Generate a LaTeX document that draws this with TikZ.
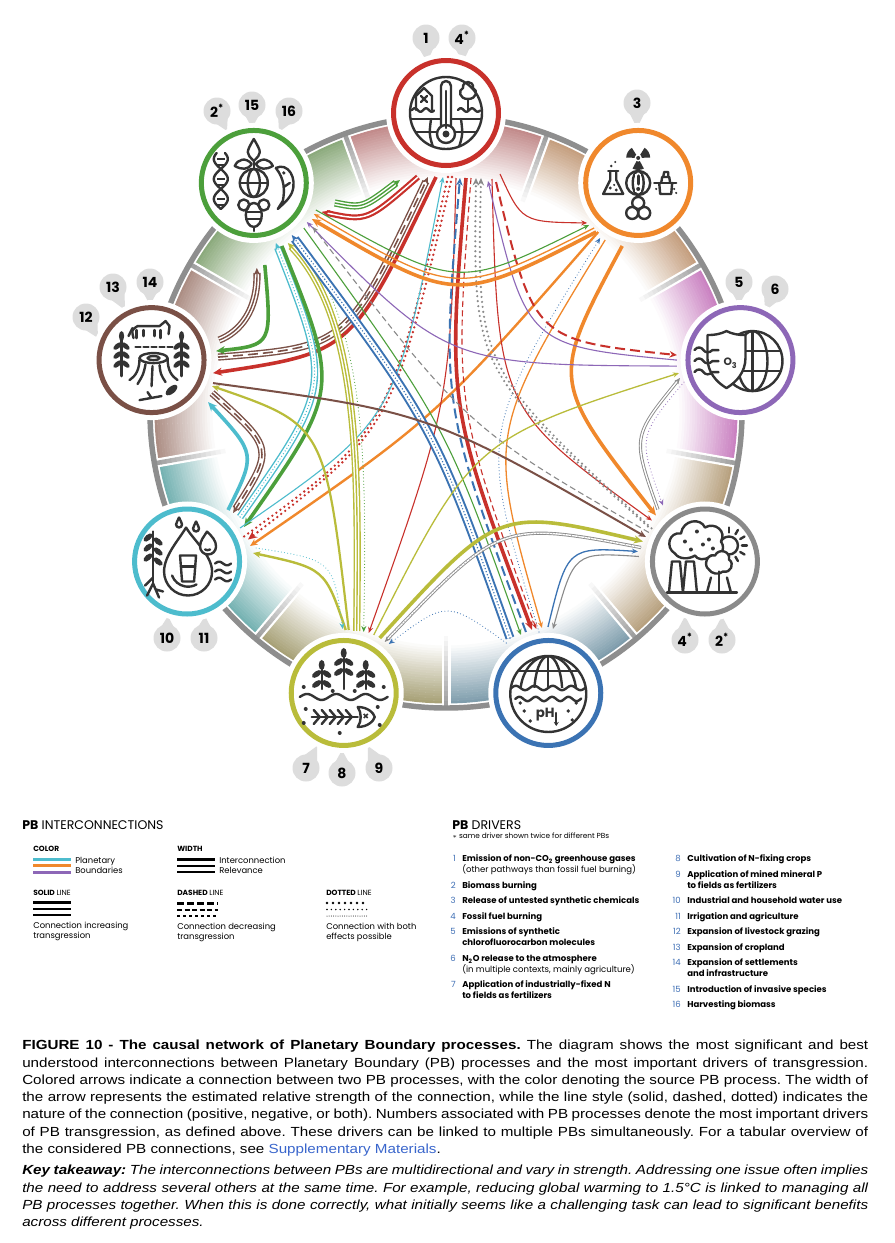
\documentclass[tikz,border=0pt]{standalone}
\usepackage{fontspec}
\setmainfont{Liberation Sans}
\newfontfamily\popf{Poppins}
\newfontfamily\capf[FakeStretch=1.15]{Liberation Sans}
\usetikzlibrary{arrows.meta,calc}
\definecolor{cred}{HTML}{C8312B}
\definecolor{corange}{HTML}{F0882C}
\definecolor{cpurple}{HTML}{8D67B7}
\definecolor{cgray}{HTML}{8A8A8A}
\definecolor{cblue}{HTML}{3B73B3}
\definecolor{colive}{HTML}{B9BC3A}
\definecolor{ccyan}{HTML}{4DBCCD}
\definecolor{cbrown}{HTML}{7A5046}
\definecolor{cgreen}{HTML}{4C9F3B}
\definecolor{bcl}{HTML}{BF8585}
\definecolor{bch}{HTML}{C29A78}
\definecolor{boz}{HTML}{C77BBE}
\definecolor{bae}{HTML}{B49C78}
\definecolor{boc}{HTML}{7898A8}
\definecolor{bni}{HTML}{A39C70}
\definecolor{bfw}{HTML}{6EAEAE}
\definecolor{bla}{HTML}{A8887E}
\definecolor{bbi}{HTML}{86A676}
\definecolor{ringgray}{HTML}{8E8E8E}
\definecolor{icon}{HTML}{333333}
\definecolor{badgec}{HTML}{DDDDDD}
\definecolor{numblue}{HTML}{3F6FB5}
\definecolor{linkblue}{HTML}{3A66CC}
\newcommand\badge[4]{%
  \fill[badgec] (#2) circle[radius=13.5];
  \fill[badgec] ($(#2)!9.5pt!90:(#3)$) -- (#3) -- ($(#2)!9.5pt!-90:(#3)$) -- cycle;
  \node[bdg] (#1) at (#2) {#4};}
\frenchspacing
\begin{document}
\begin{tikzpicture}[x=0.75pt,y=0.75pt,
  pbn/.style={circle, draw=#1, line width=3.75pt, fill=white, minimum size=78.75pt, inner sep=0pt, preaction={draw=white, line width=11.25pt}},
  ic/.style={draw=icon, line width=1.8pt, line cap=round, line join=round},
  bdg/.style={font=\popf\bfseries\fontsize{10.5pt}{12pt}\selectfont, inner sep=0pt, text=black},
  a1/.style={-{Stealth[length=4.5pt,width=3.75pt]}},
  a2/.style={-{Stealth[length=5.6pt,width=4.9pt]}},
  a3/.style={-{Stealth[length=6.75pt,width=6pt]}},
  lt/.style={line width=0.825pt},
  lm/.style={line width=1.5pt},
  lk/.style={line width=2.7pt},
  dsh/.style={dash pattern=on 7.5pt off 3.75pt},
  dshs/.style={dash pattern=on 4.5pt off 2.6pt},
  dts/.style={line cap=round, dash pattern=on 0pt off 2.4pt},
  dtb/.style={line cap=round, dash pattern=on 0pt off 3.75pt},
  tri/.style={preaction={draw=#1, -, solid, line cap=butt, double=white, double distance=3.3pt, line width=1.05pt, shorten >=3.75pt}},
  triw/.style={preaction={draw=#1, -, solid, line cap=butt, double=white, double distance=3.75pt, line width=1.5pt, shorten >=3.75pt}},
  duo/.style={draw=white, line width=0.15pt, -{Stealth[color=#1, fill=#1, length=6pt, width=5.25pt]}, preaction={draw=#1, -, solid, line cap=butt, double=white, double distance=1.125pt, line width=1.65pt, shorten >=3.75pt}},
  duot/.style={draw=white, line width=0.15pt, -{Stealth[color=#1, fill=#1, length=4.5pt, width=3.75pt]}, preaction={draw=#1, -, solid, line cap=butt, double=white, double distance=1.05pt, line width=0.675pt, shorten >=3pt}},
  dbl/.style={preaction={draw=#1, -, solid, line cap=butt, double=white, double distance=1.05pt, line width=0.675pt, shorten >=3pt}},
  lgh/.style={font=\popf\fontsize{9.4pt}{11pt}\selectfont, anchor=base west, inner sep=0pt},
  lgs/.style={font=\popf\bfseries\fontsize{5.6pt}{6.5pt}\selectfont, anchor=base west, inner sep=0pt},
  lgt/.style={font=\popf\fontsize{6.3pt}{7.5pt}\selectfont, anchor=base west, inner sep=0pt},
  drb/.style={font=\popf\bfseries\fontsize{6.4pt}{7.5pt}\selectfont, anchor=base west, inner sep=0pt},
  drr/.style={font=\popf\fontsize{6.4pt}{7.5pt}\selectfont, anchor=base west, inner sep=0pt},
  drn/.style={font=\popf\fontsize{6.4pt}{7.5pt}\selectfont, anchor=base east, inner sep=0pt, text=numblue}
]
\path[use as bounding box, fill=white] (0,0) rectangle (895,-1243);
\coordinate (O) at (446,-412);

% ---------- coloured band ----------
\foreach \bc [count=\k from 0] in {bcl,bch,boz,bae,boc,bni,bfw,bla,bbi}{
  \pgfmathsetmacro\sa{70-40*\k}
  \pgfmathsetmacro\ea{110-40*\k}
  \foreach \i in {0,...,22}{
    \pgfmathsetmacro\rr{290-2.5*\i}
    \pgfmathtruncatemacro\pp{95*(1-\i/23)}
    \draw[line width=2.2pt, \bc!\pp!white] ($(O)+(\sa:\rr)$) arc[start angle=\sa, end angle=\ea, radius=\rr];
  }
}
% ---------- spokes ----------
\foreach \a in {70,30,-10,-50,-90,-130,-170,150,110}{
  \draw[white, line width=6.75pt] ($(O)+(\a:221)$) -- ($(O)+(\a:293)$);
  \foreach \j in {0,...,13}{
    \pgfmathsetmacro\ra{224+5*\j}
    \pgfmathsetmacro\rb{229.5+5*\j}
    \pgfmathtruncatemacro\pq{6+6*\j}
    \draw[ringgray!\pq!white, line width=3.4pt] ($(O)+(\a:\ra)$) -- ($(O)+(\a:\rb)$);
  }
}
% ---------- outer ring ----------
\draw[ringgray, line width=4.1pt] (O) circle[radius=296];

% ---------- badges ----------
\badge{b1}{426,-38}{427,-62}{1}
\badge{b4a}{462,-38}{463,-62}{4\textsuperscript{*}}
\badge{b2a}{217,-111}{227,-131}{2\textsuperscript{*}}
\badge{b15}{252,-105}{252,-128}{15}
\badge{b16}{289,-111}{279,-132}{16}
\badge{b3}{637,-103}{637,-128}{3}
\badge{b5}{739,-282}{739,-305}{5}
\badge{b6}{775,-289}{765,-311}{6}
\badge{b4b}{685,-640}{685,-616}{4\textsuperscript{*}}
\badge{b2b}{722,-640}{722,-616}{2\textsuperscript{*}}
\badge{b7}{306,-768}{317,-746}{7}
\badge{b8}{342,-773}{342,-750}{8}
\badge{b9}{379,-768}{368,-746}{9}
\badge{b10}{167,-638}{168,-616}{10}
\badge{b11}{204,-638}{205,-616}{11}
\badge{b12}{86,-317}{98,-338}{12}
\badge{b13}{113,-287}{125,-310}{13}
\badge{b14}{150,-282}{150,-305}{14}

% ---------- PB nodes ----------
\node[pbn=cred]    (CL) at ($(O)+(90:299)$) {};
\node[pbn=corange] (CH) at ($(O)+(50:299)$) {};
\node[pbn=cpurple] (OZ) at ($(O)+(10:299)$) {};
\node[pbn=cgray]   (AE) at ($(O)+(-30:299)$) {};
\node[pbn=cblue]   (OC) at ($(O)+(-70:299)$) {};
\node[pbn=colive]  (NI) at ($(O)+(-110:299)$) {};
\node[pbn=ccyan]   (FW) at ($(O)+(-150:299)$) {};
\node[pbn=cbrown]  (LA) at ($(O)+(170:299)$) {};
\node[pbn=cgreen]  (BI) at ($(O)+(130:299)$) {};

% ---------- icons ----------
% climate
\begin{scope}[shift={(CL)}]
  \begin{scope}
    \clip (0,0) circle[radius=36];
    \draw[ic] (-40,-6) -- (40,-6);
    \draw[ic] (-40,-19) -- (40,-19);
    \draw[ic] (-15,-6) .. controls (-17,-22) .. (-11,-40);
    \draw[ic] (15,-6) .. controls (17,-22) .. (11,-40);
  \end{scope}
  \draw[ic] (0,0) circle[radius=36];
  \draw[ic] plot[domain=-34:-12, samples=20] (\x,{3+1.8*sin((\x+34)*32)});
  \draw[ic] plot[domain=12:34, samples=20] (\x,{3+1.8*sin((\x-12)*32)});
  \draw[ic] (-30,3) -- (-30,17) -- (-22,25) -- (-14,17) -- (-14,3);
  \draw[ic] (-25,11) -- (-19,17) (-25,17) -- (-19,11);
  \draw[ic] (22,3) -- (22,14);
  \draw[ic] (22,14) .. controls (13,14) and (12,23) .. (17,25) .. controls (16,33) and (28,33) .. (27,25) .. controls (32,23) and (31,14) .. (22,14);
  \draw[ic, fill=white] (-5,-13) -- (-5,27) arc[start angle=180, end angle=0, radius=5] -- (5,-13);
  \draw[ic, fill=white] (0,-21) circle[radius=9];
  \fill[icon] (0,-21) circle[radius=3.5];
  \draw[ic] (0,-15) -- (0,22);
\end{scope}
% chemicals
\begin{scope}[shift={(CH)}]
  \foreach \a in {30,150,270}
    \fill[icon] (0,25) -- ++({\a-28}:12) arc[start angle={\a-28}, end angle={\a+28}, radius=12] -- cycle;
  \fill[white] (0,25) circle[radius=3.6];
  \fill[icon] (0,25) circle[radius=2];
  \draw[ic] (0,0) circle[radius=12];
  \draw[ic] (0,0) ellipse[x radius=5.5, y radius=12];
  \fill[white] (-3.2,-9) rectangle (3.2,9);
  \draw[icon, line width=2.55pt, line cap=round] (0,7) -- (0,-1);
  \fill[icon] (0,-6) circle[radius=2];
  \draw[ic] (-30,12) -- (-20,12);
  \draw[ic] (-28,12) -- (-28,3) -- (-35,-11) -- (-15,-11) -- (-22,3) -- (-22,12);
  \fill[icon] (-28,-5) circle[radius=1.6];
  \fill[icon] (-22,-7) circle[radius=1.6];
  \fill[icon] (-24,-2) circle[radius=1.2];
  \fill[icon] (-27,17) circle[radius=1.4];
  \fill[icon] (-23,21) circle[radius=1.1];
  \draw[ic] (16,0) -- (38,0);
  \draw[ic] (21,0) -- (22,-11) -- (33,-11) -- (34,0);
  \draw[ic] (23,0) -- (24,6) -- (31,6) -- (32,0);
  \draw[ic] (25,6) -- (26,11) -- (30,11) -- (30,6);
  \fill[icon] (36,-6) circle[radius=1.2];
  \fill[icon] (38,-10) circle[radius=1.2];
  \fill[icon] (18,-6) circle[radius=1.2];
  \draw[ic] (0,-20) circle[radius=6];
  \draw[ic] (-6,-30) circle[radius=6];
  \draw[ic] (6,-30) circle[radius=6];
\end{scope}
% ozone
\begin{scope}[shift={(OZ)}]
  \draw[ic] (12,-1) circle[radius=30];
  \begin{scope}
    \clip (12,-1) circle[radius=30];
    \draw[ic] (12,-31) -- (12,29);
    \draw[ic] (12,-1) ellipse[x radius=15, y radius=30];
    \draw[ic] (-20,9) -- (44,9);
    \draw[ic] (-20,-11) -- (44,-11);
  \end{scope}
  \draw[ic, fill=white] (-14,29) .. controls (-20,26) and (-26,25) .. (-33,25) -- (-33,2) .. controls (-33,-12) and (-24,-22) .. (-14,-28) .. controls (-4,-22) and (5,-12) .. (5,2) -- (5,25) .. controls (-2,25) and (-8,26) .. (-14,29) -- cycle;
  \node[font=\popf\bfseries\fontsize{8pt}{9pt}\selectfont, text=icon, inner sep=0pt] (ozt) at (-10,-3) {O\textsubscript{3}};
  \foreach \wy in {10,-1,-12}
    \draw[ic] (-46,\wy) .. controls (-43,\wy+4) and (-39,\wy+3) .. (-37,\wy) .. controls (-35,\wy-3) and (-31,\wy-3) .. (-28,\wy) -- (-22,\wy);
\end{scope}
% aerosols
\begin{scope}[shift={(AE)}]
  \draw[ic] (24,16) circle[radius=9];
  \foreach \a in {-60,-30,0,30,60,90}
    \draw[ic] ($(24,16)+(\a:13)$) -- ($(24,16)+(\a:18)$);
  \draw[ic, fill=white] (-30,8) .. controls (-40,14) and (-36,30) .. (-24,28) .. controls (-22,42) and (-4,44) .. (0,34) .. controls (10,40) and (22,30) .. (16,20) .. controls (22,12) and (14,2) .. (6,6) .. controls (0,0) and (-8,2) .. (-10,6) .. controls (-16,2) and (-26,2) .. (-30,8) -- cycle;
  \foreach \p in {(-20,20),(-8,30),(4,22),(-14,12),(8,13),(-2,17)}
    \fill[icon] \p circle[radius=2];
  \draw[ic, fill=white] (-36,-31) -- (-33,0) -- (-25,0) -- (-22,-31);
  \draw[ic, fill=white] (-22,-31) -- (-19,0) -- (-11,0) -- (-8,-31);
  \draw[ic, fill=white] (4,-8) .. controls (-2,-4) and (2,8) .. (10,6) .. controls (14,14) and (26,10) .. (24,2) .. controls (30,-2) and (26,-12) .. (18,-10) .. controls (14,-14) and (6,-12) .. (4,-8) -- cycle;
  \draw[ic] (14,-10) -- (14,-31);
  \draw[ic] (2,-31) -- (6,-16);
  \draw[ic] (26,-31) -- (22,-16);
  \draw[ic] (-38,-31) -- (32,-31);
\end{scope}
% ocean
\begin{scope}[shift={(OC)}]
  \begin{scope}
    \clip (0,-1) circle[radius=38];
    \clip (-40,5) rectangle (40,40);
    \draw[ic] (0,-1) ellipse[x radius=14, y radius=38];
    \draw[ic] (0,-1) ellipse[x radius=28, y radius=38];
    \draw[ic] (0,-40) -- (0,40);
    \draw[ic] (-40,22) -- (40,22);
  \end{scope}
  \draw[ic] (0,-1) circle[radius=38];
  \draw[ic] plot[domain=-37:37, samples=50] (\x,{5+2.2*sin((\x+37)*19.5)});
  \draw[ic] plot[domain=-33:33, samples=46] (\x,{-6+2.2*sin((\x+33)*22)});
  \node[font=\popf\bfseries\fontsize{10pt}{11pt}\selectfont, text=icon, inner sep=0pt] (ocph) at (-3,-22) {pH};
  \draw[ic, -{Stealth[length=3pt,width=3.75pt]}] (8,-20) -- (8,-33);
  \foreach \p in {(-24,-18),(-18,-28),(20,-18),(24,-27),(-28,-10),(28,-10)}
    \fill[icon] \p circle[radius=1.8];
\end{scope}
% nitrogen / phosphorus
\begin{scope}[shift={(NI)}]
  \foreach \sx/\tp in {-22/28, 0/40, 22/28}{
    \draw[ic] (\sx,4) -- (\sx,\tp);
    \fill[icon, rotate around={90:(\sx,\tp)}] (\sx,\tp) ellipse[x radius=5, y radius=3];
    \fill[icon, rotate around={35:(\sx-5,\tp-9)}] (\sx-5,\tp-9) ellipse[x radius=5.5, y radius=2.8];
    \fill[icon, rotate around={-35:(\sx+5,\tp-9)}] (\sx+5,\tp-9) ellipse[x radius=5.5, y radius=2.8];
    \fill[icon, rotate around={35:(\sx-5,\tp-19)}] (\sx-5,\tp-19) ellipse[x radius=5.5, y radius=2.8];
    \fill[icon, rotate around={-35:(\sx+5,\tp-19)}] (\sx+5,\tp-19) ellipse[x radius=5.5, y radius=2.8];
  }
  \draw[ic] plot[domain=-44:44, samples=60] (\x,{-4+3*sin((\x+44)*12.3)});
  \draw[ic] (-32,-24) -- (14,-24);
  \foreach \bx in {-24,-16,-8,0,8}
    \draw[ic] (\bx,-24) -- (\bx-6,-17) (\bx,-24) -- (\bx-6,-31);
  \draw[ic] (14,-14) .. controls (24,-14) and (30,-20) .. (31,-24) .. controls (30,-28) and (24,-34) .. (14,-34) .. controls (18,-28) and (18,-20) .. (14,-14);
  \draw[icon, line width=1.2pt] (20,-21) -- (24,-25) (20,-25) -- (24,-21);
  \foreach \p in {(-40,6),(-11,2),(11,2),(40,6),(-38,-16),(-40,-30),(-4,-40),(34,-14),(36,-32)}
    \fill[icon] \p circle[radius=2];
\end{scope}
% freshwater
\begin{scope}[shift={(FW)}]
  \draw[ic] (-1,34) .. controls (-8,22) and (-23,6) .. (-23,-10) arc[start angle=180, end angle=360, radius=24] .. controls (25,6) and (6,22) .. (-1,34);
  \draw[ic] (-15,-14) arc[start angle=200, end angle=300, radius=17];
  \draw[ic] (-7,6) -- (-5,-20) -- (7,-20) -- (9,6) -- cycle;
  \draw[ic] (-6,-5) -- (8,-5);
  \draw[ic, fill=white] (20,30) .. controls (17,25) and (13,21) .. (13,15) arc[start angle=180, end angle=360, radius=8] .. controls (29,21) and (25,25) .. (20,30);
  \draw[ic] (18,12) arc[start angle=240, end angle=300, radius=5];
  \draw[ic] (9,40) .. controls (8,37) and (6,35) .. (6,33) arc[start angle=180, end angle=360, radius=3] .. controls (12,35) and (10,37) .. (9,40);
  \draw[ic] (-8,44) .. controls (-9,41) and (-11,39) .. (-11,37) arc[start angle=180, end angle=360, radius=3] .. controls (-5,39) and (-7,41) .. (-8,44);
  \draw[ic] (-34,30) -- (-34,-22);
  \foreach \ly in {24,14,4}{
    \fill[icon, rotate around={40:(-39,\ly)}] (-39,\ly) ellipse[x radius=5.5, y radius=2.8];
    \fill[icon, rotate around={-40:(-29,\ly-4)}] (-29,\ly-4) ellipse[x radius=5.5, y radius=2.8];
  }
  \draw[ic] (-34,-22) -- (-40,-34) (-34,-22) -- (-28,-36) (-34,-16) -- (-42,-24) (-31,-28) -- (-24,-30);
  \foreach \wy in {-2,-10,-18}
    \draw[ic] plot[domain=28:44, samples=14] (\x,{\wy+1.8*sin((\x-28)*22.5)});
\end{scope}
% land
\begin{scope}[shift={(LA)}]
  \draw[ic] (-18,22) .. controls (-20,30) .. (-14,34) -- (8,34) -- (14,39) -- (18,34) -- (17,26);
  \draw[ic] (-15,22) -- (-15,30) (-8,24) -- (-8,30) (3,24) -- (3,30) (9,22) -- (9,30);
  \draw[ic] (-19,32) -- (-23,24);
  \draw[ic, dash pattern=on 3.75pt off 2.25pt] (-16,13) -- (22,13);
  \draw[ic] (2,2) ellipse[x radius=14, y radius=5];
  \draw[ic] (2,2) ellipse[x radius=6, y radius=2];
  \draw[ic] (-12,2) .. controls (-12,-10) and (-16,-16) .. (-22,-20);
  \draw[ic] (16,2) .. controls (16,-10) and (20,-16) .. (26,-20);
  \draw[ic] (-6,-4) .. controls (-8,-14) .. (-14,-24);
  \draw[ic] (1,-6) -- (0,-26);
  \draw[ic] (8,-5) .. controls (9,-14) .. (14,-22);
  \foreach \s in {-1,1}{
    \draw[ic] (30*\s,-16) -- (30*\s,20);
    \fill[icon] (30*\s,24) ellipse[x radius=2.6, y radius=5];
    \foreach \gy in {14,5,-4}{
      \fill[icon, rotate around={40:(30*\s-4,\gy)}] (30*\s-4,\gy) ellipse[x radius=5, y radius=2.5];
      \fill[icon, rotate around={-40:(30*\s+4,\gy)}] (30*\s+4,\gy) ellipse[x radius=5, y radius=2.5];
    }
  }
  \draw[ic] (-12,-40) -- (10,-36) (0,-38) -- (-4,-32);
  \fill[icon, rotate around={40:(20,-30)}] (20,-30) ellipse[x radius=7, y radius=3.5];
\end{scope}
% biosphere
\begin{scope}[shift={(BI)}]
  \draw[ic] (0,0) circle[radius=14];
  \draw[ic] (0,0) ellipse[x radius=6, y radius=14];
  \draw[ic] (-14,0) -- (14,0);
  \draw[ic] (0,14) -- (0,22);
  \draw[ic] (0,22) .. controls (-8,30) .. (0,44) .. controls (8,30) .. (0,22);
  \draw[ic] (-2,19) .. controls (-8,26) and (-16,24) .. (-19,17) .. controls (-12,13) and (-6,13) .. (-2,19);
  \draw[ic] (2,19) .. controls (8,26) and (16,24) .. (19,17) .. controls (12,13) and (6,13) .. (2,19);
  \draw[ic] plot[domain=-26:30, samples=40] ({-33+7*sin((\x+26)*9)}, \x);
  \draw[ic] plot[domain=-26:30, samples=40] ({-33-7*sin((\x+26)*9)}, \x);
  \foreach \ry in {-22,-16,-2,4,18,24}
    \draw[icon, line width=1.1pt] (-37,\ry) -- (-29,\ry);
  \draw[ic] (0,-32) ellipse[x radius=8, y radius=12];
  \draw[ic] (-7,-29) -- (7,-29) (-7,-36) -- (7,-36);
  \draw[ic] (-10,-22) circle[radius=5.5];
  \draw[ic] (10,-22) circle[radius=5.5];
  \draw[ic] (0,-44) -- (0,-48);
  \draw[ic] (22,15) .. controls (34,21) and (44,5) .. (38,-10) .. controls (34,-18) and (28,-22) .. (24,-26) -- (29,-18) .. controls (31,-8) and (31,4) .. (22,15);
  \draw[ic] (30,-4) -- (36,0);
  \fill[icon] (30,10) circle[radius=1.8];
\end{scope}

% ---------- connectors ----------
% biosphere <-> climate
\draw[tri=cgreen, cgreen, line width=1.05pt, a2] ($(BI)+(81,-20)$) .. controls (362.5,-208.5) .. ($(CL)+(-46,-67)$);
\draw[duo=cred] ($(CL)+(-28,-64)$) .. controls (367,-221.5) .. ($(BI)+(68,-29)$);
% land <-> climate
\draw[tri=cbrown, cbrown, line width=1.2pt, dsh, a2] ($(LA)+(66.5,3)$) .. controls (347,-347) .. ($(CL)+(-18,-64)$);
\draw[cred, lk, a3] ($(CL)+(-10,-64)$) .. controls (352,-352) .. ($(LA)+(61.5,-13)$);
% land <-> biosphere
\draw[tri=cbrown, cbrown, line width=1.05pt, a2] ($(LA)+(67.5,20)$) .. controls (240,-332) and (258,-310) .. ($(BI)+(3,-85)$);
\draw[cgreen, lk, a3] ($(BI)+(11,-82)$) .. controls (272,-345) .. ($(LA)+(64.5,9)$);
% freshwater <-> land
\draw[ccyan, lk, a3] ($(FW)+(41,51.5)$) .. controls (256,-454) .. ($(LA)+(56.5,-42)$);
\draw[tri=cbrown, cbrown, line width=1.2pt, dsh, a2] ($(LA)+(60.5,-33)$) .. controls (274,-448.5) .. ($(FW)+(46,48.5)$);
% freshwater <-> biosphere
\draw[tri=ccyan, ccyan, line width=1.05pt, dts, a2] ($(FW)+(53,44.5)$) .. controls (332,-386) .. ($(BI)+(22,-60)$);
\draw[cgreen, lk, a3] ($(BI)+(28,-63)$) .. controls (340,-390) .. ($(FW)+(57,34.5)$);
% climate <-> freshwater
\draw[cred, line width=1.95pt, dtb] ($(CL)+(2,-64)$) .. controls (388,-431) .. ($(FW)+(57,25)$);
\draw[cred, line width=1.95pt, dtb, a3] ($(CL)+(6,-64)$) .. controls (392,-429) .. ($(FW)+(61,22)$);
\draw[ccyan, lt, a1] ($(FW)+(53,33.5)$) .. controls (396,-420) .. ($(CL)+(-3,-64)$);
% chemicals -> freshwater
\draw[corange, line width=1.8pt, a2] ($(CH)+(-40,-49)$) .. controls (436,-417.5) .. ($(FW)+(63,15.5)$);
% nitrogen <-> freshwater
\draw[colive, line width=1.8pt, a2] ($(NI)+(2,63)$) .. controls (325,-568.5) .. ($(FW)+(66,8.5)$);
\draw[ccyan, lt, dts, a1] ($(FW)+(69,13.5)$) .. controls (333,-560) .. ($(NI)+(-1,64)$);
% nitrogen -> land
\draw[colive, line width=1.65pt, a2] ($(NI)+(5,63)$) .. controls (325,-425) .. ($(LA)+(60.5,-26)$);
% nitrogen <-> biosphere
\draw[tri=colive, colive, line width=1.05pt, a2] ($(NI)+(13,62)$) .. controls (358,-480) and (362,-320) .. ($(BI)+(34,-60)$);
\draw[cgreen, lt, dts, a1] ($(BI)+(41,-57)$) .. controls (370,-320) and (366,-480) .. ($(NI)+(20,61)$);
% climate -> nitrogen
\draw[cred, lt, a1] ($(CL)+(10,-65)$) .. controls (450,-404) .. ($(NI)+(25,60)$);
% climate <-> ocean
\draw[cred, lk, a3] ($(CL)+(20,-65)$) .. controls (447,-404) .. ($(OC)+(-16.3,63)$);
\draw[cblue, lm, dsh, a2] ($(OC)+(-22.3,61)$) .. controls (441,-404) .. ($(CL)+(14,-65)$);
\draw[cred, lt, dshs, a1] ($(CL)+(25,-65)$) .. controls (454,-404) .. ($(OC)+(-12,64)$);
% ocean <-> biosphere
\draw[triw=cblue, cblue, line width=1.2pt, dts, a2] ($(OC)+(-38.3,55)$) .. controls (435,-427.5) .. ($(BI)+(38,-52)$);
\draw[cgreen, lt, a1] ($(BI)+(50,-45)$) .. controls (446,-425) .. ($(OC)+(-27.3,58)$);
% chemicals <-> ocean
\draw[corange, line width=0.975pt, a1] ($(CH)+(-33,-57)$) .. controls (486.5,-434) .. ($(OC)+(-6.3,65)$);
\draw[cblue, lt, dts, a1] ($(OC)+(-9.3,61)$) .. controls (478,-434) .. ($(CH)+(-38,-55)$);
% chemicals -> aerosols
\draw[corange, lk, a3] ($(CH)+(-16,-63)$) .. controls (550,-380.5) .. ($(AE)+(-49,46)$);
% climate <-> aerosols
\draw[cred, lt, a1] ($(CL)+(46,-66)$) .. controls (498,-409) .. ($(AE)+(-53,41)$);
\draw[cgray, line width=1.8pt, dtb, a2] ($(AE)+(-57,35)$) .. controls (473,-369) .. ($(CL)+(30,-65)$);
\draw[cgray, line width=1.8pt, dtb, a2] ($(AE)+(-53.4,33.2)$) .. controls (476.6,-367.2) .. ($(CL)+(35,-65)$);
% climate <-> ozone
\draw[cred, lm, dsh, a2] ($(CL)+(50,-69)$) .. controls (534,-340) .. ($(OZ)+(-63.5,5)$);
\draw[cpurple, lt, a1] ($(OZ)+(-63.5,0)$) .. controls (527,-346) .. ($(CL)+(42,-68)$);
% ozone -> biosphere
\draw[cpurple, lt, a1] ($(OZ)+(-63.5,-6)$) .. controls (448.5,-365) .. ($(BI)+(53,-39)$);
% climate -> chemicals
\draw[cred, lt, a1] ($(CL)+(54,-61)$) .. controls (522,-222) .. ($(CH)+(-51,-40)$);
% chemicals <-> biosphere
\draw[corange, lk, a3] ($(CH)+(-42,-49)$) .. controls (456.5,-304) .. ($(BI)+(58,-36)$);
\draw[corange, line width=0.975pt, a1] ($(CH)+(-44,-45)$) .. controls (457,-297) .. ($(BI)+(60,-31)$);
\draw[cgreen, lt, a1] ($(BI)+(62,-27)$) .. controls (458,-290) .. ($(CH)+(-49,-42)$);
% aerosols -> biosphere
\draw[cgray, lt, dshs, a1] ($(AE)+(-56,29)$) .. controls (468.5,-429) .. ($(BI)+(59,-44)$);
% land -> aerosols
\draw[cbrown, line width=1.5pt, a2] ($(LA)+(61.5,-23)$) .. controls (430,-412.5) .. ($(AE)+(-59,24.5)$);
% nitrogen <-> aerosols
\draw[colive, lk, a3] ($(NI)+(36,55)$) .. controls (498.5,-507.5) .. ($(AE)+(-62,20)$);
\draw[dbl=cgray, cgray, line width=0.525pt, dts, a1] ($(AE)+(-64,14)$) .. controls (501,-521) .. ($(NI)+(41,51)$);
% ocean -> nitrogen
\draw[cblue, lt, dts, a1] ($(OC)+(-42,50)$) .. controls (447,-600.5) .. ($(NI)+(45,49)$);
% ocean <-> aerosols
\draw[cblue, line width=0.975pt, a1] ($(OC)+(-0.3,66)$) .. controls (567.5,-547) .. ($(AE)+(-67,10)$);
\draw[cgray, lt, a1] ($(AE)+(-66,5)$) .. controls (574,-552) .. ($(OC)+(4.7,64)$);
% ozone <-> aerosols
\draw[duot=cgray] ($(AE)+(-47,52)$) .. controls (632,-437) .. ($(OZ)+(-60.5,-18)$);
\draw[cpurple, lt, dts, a1] ($(OZ)+(-56.5,-22)$) .. controls (638,-437) .. ($(AE)+(-42,56)$);
% nitrogen -> ozone
\draw[colive, line width=0.975pt, a1] ($(NI)+(30,58)$) .. controls (473,-439) .. ($(OZ)+(-61.5,-13)$);

% ---------- legend: interconnections ----------
\node[lgh] (lgA) at (22,-829) {\textbf{PB} INTERCONNECTIONS};
\node[lgs] (lgCol) at (33,-851) {COLOR};
\draw[ccyan, line width=2.25pt] (33,-859) -- (71,-859);
\draw[corange, line width=2.25pt] (33,-865.5) -- (71,-865.5);
\draw[cpurple, line width=2.25pt] (33,-872) -- (71,-872);
\node[lgt] (lgP) at (75,-863.5) {Planetary};
\node[lgt] (lgB) at (75,-873.5) {Boundaries};
\node[lgs] (lgW) at (177,-851) {WIDTH};
\draw[black, line width=2.25pt] (177,-859) -- (215,-859);
\draw[black, line width=1.5pt] (177,-865.5) -- (215,-865.5);
\draw[black, line width=0.825pt] (177,-872) -- (215,-872);
\node[lgt] (lgI) at (219,-863.5) {Interconnection};
\node[lgt] (lgR) at (219,-873.5) {Relevance};
\node[lgs] (lgS) at (33,-895) {SOLID {\mdseries LINE}};
\draw[black, line width=2.25pt] (33,-902) -- (71,-902);
\draw[black, line width=1.5pt] (33,-908.5) -- (71,-908.5);
\draw[black, line width=0.825pt] (33,-915) -- (71,-915);
\node[lgt] (lgS1) at (33,-928) {Connection increasing};
\node[lgt] (lgS2) at (33,-938) {transgression};
\node[lgs] (lgD) at (177,-895) {DASHED {\mdseries LINE}};
\draw[black, line width=2.25pt, dash pattern=on 5.25pt off 2.25pt] (177,-903) -- (218,-903);
\draw[black, line width=1.5pt, dash pattern=on 3.75pt off 1.9pt] (177,-909.5) -- (218,-909.5);
\draw[black, line width=0.825pt, dash pattern=on 2.6pt off 1.9pt] (177,-916) -- (218,-916);
\node[lgt] (lgD1) at (177,-929) {Connection decreasing};
\node[lgt] (lgD2) at (177,-939) {transgression};
\node[lgs] (lgT) at (326,-895) {DOTTED {\mdseries LINE}};
\draw[black, line width=1.95pt, line cap=round, dash pattern=on 0pt off 4.5pt] (327,-903) -- (367,-903);
\draw[black, line width=1.2pt, line cap=round, dash pattern=on 0pt off 3.3pt] (327,-909.5) -- (367,-909.5);
\draw[black, line width=0.75pt, line cap=round, dash pattern=on 0pt off 1.65pt] (327,-916) -- (367,-916);
\node[lgt] (lgT1) at (326,-929) {Connection with both};
\node[lgt] (lgT2) at (326,-939) {effects possible};

% ---------- legend: drivers ----------
\node[lgh] (drH) at (452,-829) {\textbf{PB} DRIVERS};
\node[font=\popf\fontsize{5.5pt}{6.5pt}\selectfont, anchor=base west, inner sep=0pt] (drS) at (452,-838.5) {$\ast$ same driver shown twice for different PBs};
\node[drn] (n1) at (456,-861.5) {1};
\node[drb] (t1) at (462,-861.5) {Emission of non-CO\textsubscript{2} greenhouse gases};
\node[drr] (t1b) at (462,-872.5) {(other pathways than fossil fuel burning)};
\node[drn] (n2) at (456,-888.5) {2};
\node[drb] (t2) at (462,-888.5) {Biomass burning};
\node[drn] (n3) at (456,-903.5) {3};
\node[drb] (t3) at (462,-903.5) {Release of untested synthetic chemicals};
\node[drn] (n4) at (456,-919.5) {4};
\node[drb] (t4) at (462,-919.5) {Fossil fuel burning};
\node[drn] (n5) at (456,-934.5) {5};
\node[drb] (t5) at (462,-934.5) {Emissions of synthetic};
\node[drb] (t5b) at (462,-945.5) {chlorofluorocarbon molecules};
\node[drn] (n6) at (456,-961.5) {6};
\node[drb] (t6) at (462,-961.5) {N\textsubscript{2}O release to the atmosphere};
\node[drr] (t6b) at (462,-972.5) {(in multiple contexts, mainly agriculture)};
\node[drn] (n7) at (456,-987.5) {7};
\node[drb] (t7) at (462,-987.5) {Application of industrially-fixed N};
\node[drb] (t7b) at (462,-998.5) {to fields as fertilizers};
\node[drn] (n8) at (681,-861.5) {8};
\node[drb] (t8) at (687,-861.5) {Cultivation of N-fixing crops};
\node[drn] (n9) at (681,-877.5) {9};
\node[drb] (t9) at (687,-877.5) {Application of mined mineral P};
\node[drb] (t9b) at (687,-888.5) {to fields as fertilizers};
\node[drn] (n10) at (681,-903.5) {10};
\node[drb] (t10) at (687,-903.5) {Industrial and household water use};
\node[drn] (n11) at (681,-919.5) {11};
\node[drb] (t11) at (687,-919.5) {Irrigation and agriculture};
\node[drn] (n12) at (681,-934.5) {12};
\node[drb] (t12) at (687,-934.5) {Expansion of livestock grazing};
\node[drn] (n13) at (681,-950.5) {13};
\node[drb] (t13) at (687,-950.5) {Expansion of cropland};
\node[drn] (n14) at (681,-965.5) {14};
\node[drb] (t14) at (687,-965.5) {Expansion of settlements};
\node[drb] (t14b) at (687,-976.5) {and infrastructure};
\node[drn] (n15) at (681,-992.5) {15};
\node[drb] (t15) at (687,-992.5) {Introduction of invasive species};
\node[drn] (n16) at (681,-1007.5) {16};
\node[drb] (t16) at (687,-1007.5) {Harvesting biomass};

% ---------- caption ----------
\node[anchor=north west, text width=634.5pt, align=justify, inner sep=0pt, font=\capf\fontsize{9.9pt}{12.95pt}\selectfont] (cap) at (22,-1040) {\textbf{FIGURE 10 - The causal network of Planetary Boundary processes.} The diagram shows the most significant and best understood interconnections between Planetary Boundary (PB) processes and the most important drivers of transgression. Colored arrows indicate a connection between two PB processes, with the color denoting the source PB process. The width of the arrow represents the estimated relative strength of the connection, while the line style (solid, dashed, dotted) indicates the nature of the connection (positive, negative, or both). Numbers associated with PB processes denote the most important drivers of PB transgression, as defined above. These drivers can be linked to multiple PBs simultaneously. For a tabular overview of the considered PB connections, see \textcolor{linkblue}{Supplementary Materials}.};
\node[anchor=north west, text width=634.5pt, align=justify, inner sep=0pt, font=\capf\fontsize{9.9pt}{12.95pt}\selectfont\itshape] (key) at (22,-1165) {\textbf{Key takeaway:} The interconnections between PBs are multidirectional and vary in strength. Addressing one issue often implies the need to address several others at the same time. For example, reducing global warming to 1.5°C is linked to managing all PB processes together. When this is done correctly, what initially seems like a challenging task can lead to significant benefits across different processes.};
\end{tikzpicture}
\end{document}
